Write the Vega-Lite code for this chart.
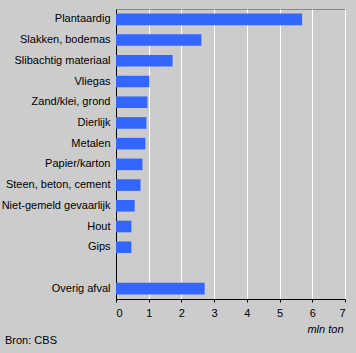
{
  "$schema": "https://vega.github.io/schema/vega-lite/v6.json",
  "autosize": "none",
  "width": 229,
  "height": 290,
  "padding": {"left": 116, "top": 9, "right": 11, "bottom": 54},
  "background": "#cccccc",
  "config": {
    "view": {"stroke": "#888888", "strokeWidth": 1, "fill": "#cccccc"},
    "font": "Liberation Sans"
  },
  "title": {
    "text": "Bron: CBS",
    "orient": "bottom",
    "anchor": "start",
    "frame": "group",
    "dx": -111,
    "offset": 1,
    "fontSize": 11,
    "fontWeight": "normal",
    "color": "#000000",
    "font": "Liberation Sans"
  },
  "data": {
    "values": [
      {"cat": "Plantaardig", "v": 5.69},
      {"cat": "Slakken, bodemas", "v": 2.61},
      {"cat": "Slibachtig materiaal", "v": 1.73},
      {"cat": "Vliegas", "v": 1.02},
      {"cat": "Zand/klei, grond", "v": 0.96},
      {"cat": "Dierlijk", "v": 0.93},
      {"cat": "Metalen", "v": 0.9},
      {"cat": "Papier/karton", "v": 0.81},
      {"cat": "Steen, beton, cement", "v": 0.75},
      {"cat": "Niet-gemeld gevaarlijk", "v": 0.57},
      {"cat": "Hout", "v": 0.47},
      {"cat": "Gips", "v": 0.47},
      {"cat": "Overig afval", "v": 2.71}
    ]
  },
  "mark": {"type": "bar", "color": "#3366ff"},
  "encoding": {
    "y": {
      "field": "cat",
      "type": "nominal",
      "scale": {
        "domain": ["Plantaardig", "Slakken, bodemas", "Slibachtig materiaal", "Vliegas", "Zand/klei, grond", "Dierlijk", "Metalen", "Papier/karton", "Steen, beton, cement", "Niet-gemeld gevaarlijk", "Hout", "Gips", " ", "Overig afval"],
        "paddingInner": 0.44,
        "paddingOuter": 0.22
      },
      "axis": {
        "title": null,
        "ticks": false,
        "labelPadding": 6,
        "labelFontSize": 11,
        "labelColor": "#000000",
        "labelFont": "Liberation Sans",
        "domainColor": "#000000",
        "domainWidth": 1,
        "grid": false
      }
    },
    "x": {
      "field": "v",
      "type": "quantitative",
      "scale": {"domain": [0, 7], "nice": false},
      "axis": {
        "values": [0, 1, 2, 3, 4, 5, 6, 7],
        "format": "d",
        "title": "mln ton",
        "titleFontStyle": "italic",
        "titleFontWeight": "normal",
        "titleFontSize": 11,
        "titleFont": "Liberation Sans",
        "titleColor": "#000000",
        "titleAnchor": "end",
        "titleAlign": "right",
        "titleBaseline": "alphabetic",
        "titleX": 227,
        "titleY": 33,
        "labelFontSize": 11,
        "labelFont": "Liberation Sans",
        "labelColor": "#000000",
        "labelPadding": 5,
        "tickSize": 3,
        "tickColor": "#000000",
        "domainColor": "#000000",
        "grid": true,
        "gridColor": "#ffffff",
        "gridOpacity": 1,
        "gridWidth": 1
      }
    }
  }
}
